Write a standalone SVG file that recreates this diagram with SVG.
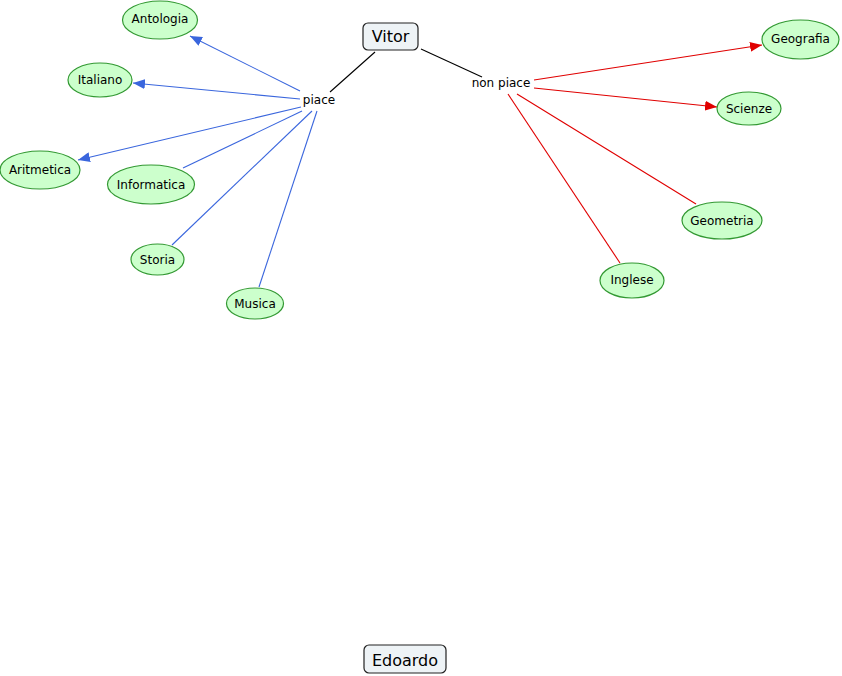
<svg xmlns="http://www.w3.org/2000/svg" width="842" height="676" viewBox="0 0 842 676">
<style>
.c{fill:#ccffcc;stroke:#339933;stroke-width:1.2}
.r{fill:#eef3f6;stroke:#222;stroke-width:1.2}
.t{font-family:"DejaVu Sans",Verdana,sans-serif;font-size:12px;fill:#000;text-anchor:middle;dominant-baseline:central}
.big{font-size:16px}
.lb{stroke:#3a66dd;stroke-width:1.1;fill:none}
.lr{stroke:#e00000;stroke-width:1.1;fill:none}
.lk{stroke:#000;stroke-width:1.1;fill:none}
</style>
<defs>
<marker id="ab" markerUnits="userSpaceOnUse" markerWidth="12" markerHeight="10" refX="12" refY="5" orient="auto"><path d="M0,0 L12,5 L0,10 Z" fill="#3a66dd"/></marker>
<marker id="ar" markerUnits="userSpaceOnUse" markerWidth="12" markerHeight="10" refX="12" refY="5" orient="auto"><path d="M0,0 L12,5 L0,10 Z" fill="#e00000"/></marker>
</defs>
<rect width="842" height="676" fill="#fff"/>
<g id="connectors">
<line class="lk" x1="375" y1="52" x2="330" y2="92"/>
<line class="lk" x1="421" y1="49" x2="482" y2="77"/>
<line class="lb" x1="300" y1="91" x2="190" y2="36" marker-end="url(#ab)"/>
<line class="lb" x1="300" y1="99" x2="133" y2="83" marker-end="url(#ab)"/>
<line class="lb" x1="301" y1="107" x2="78" y2="160" marker-end="url(#ab)"/>
<line class="lb" x1="302" y1="111" x2="183" y2="168"/>
<line class="lb" x1="312" y1="111" x2="172" y2="245"/>
<line class="lb" x1="317" y1="111" x2="259" y2="287"/>
<line class="lr" x1="534" y1="80" x2="762" y2="45" marker-end="url(#ar)"/>
<line class="lr" x1="534" y1="88" x2="717" y2="107" marker-end="url(#ar)"/>
<line class="lr" x1="517" y1="94" x2="696" y2="204"/>
<line class="lr" x1="508" y1="94" x2="620" y2="263"/>
</g>
<g id="piace"><text class="t" x="319" y="100">piace</text></g>
<g id="nonpiace"><text class="t" x="501" y="83">non piace</text></g>
<g id="vitor"><rect class="r" x="363" y="23" width="55" height="27" rx="5"/><text class="t big" x="390.5" y="36.5">Vitor</text></g>
<g id="edoardo"><rect class="r" x="364" y="645" width="82" height="28" rx="5"/><text class="t big" x="405" y="660.5">Edoardo</text></g>
<g id="antologia"><ellipse class="c" cx="160" cy="20" rx="37.5" ry="19"/><text class="t" x="160" y="19">Antologia</text></g>
<g id="italiano"><ellipse class="c" cx="100" cy="80" rx="32" ry="17"/><text class="t" x="100" y="80">Italiano</text></g>
<g id="aritmetica"><ellipse class="c" cx="40" cy="170" rx="40" ry="19"/><text class="t" x="40" y="170">Aritmetica</text></g>
<g id="informatica"><ellipse class="c" cx="151" cy="184.5" rx="43.5" ry="19.5"/><text class="t" x="151" y="184.5">Informatica</text></g>
<g id="storia"><ellipse class="c" cx="157.5" cy="259.5" rx="26.5" ry="15.5"/><text class="t" x="157.5" y="259.5">Storia</text></g>
<g id="musica"><ellipse class="c" cx="255" cy="303.5" rx="28.5" ry="15.5"/><text class="t" x="255" y="304">Musica</text></g>
<g id="geografia"><ellipse class="c" cx="800.5" cy="39.5" rx="38.5" ry="19.5"/><text class="t" x="800.5" y="39">Geografia</text></g>
<g id="scienze"><ellipse class="c" cx="749" cy="108.5" rx="32" ry="16.5"/><text class="t" x="749" y="108.5">Scienze</text></g>
<g id="geometria"><ellipse class="c" cx="722" cy="220.5" rx="40" ry="18.5"/><text class="t" x="722" y="220.5">Geometria</text></g>
<g id="inglese"><ellipse class="c" cx="632" cy="280.5" rx="32" ry="17.5"/><text class="t" x="632" y="280">Inglese</text></g>
</svg>
